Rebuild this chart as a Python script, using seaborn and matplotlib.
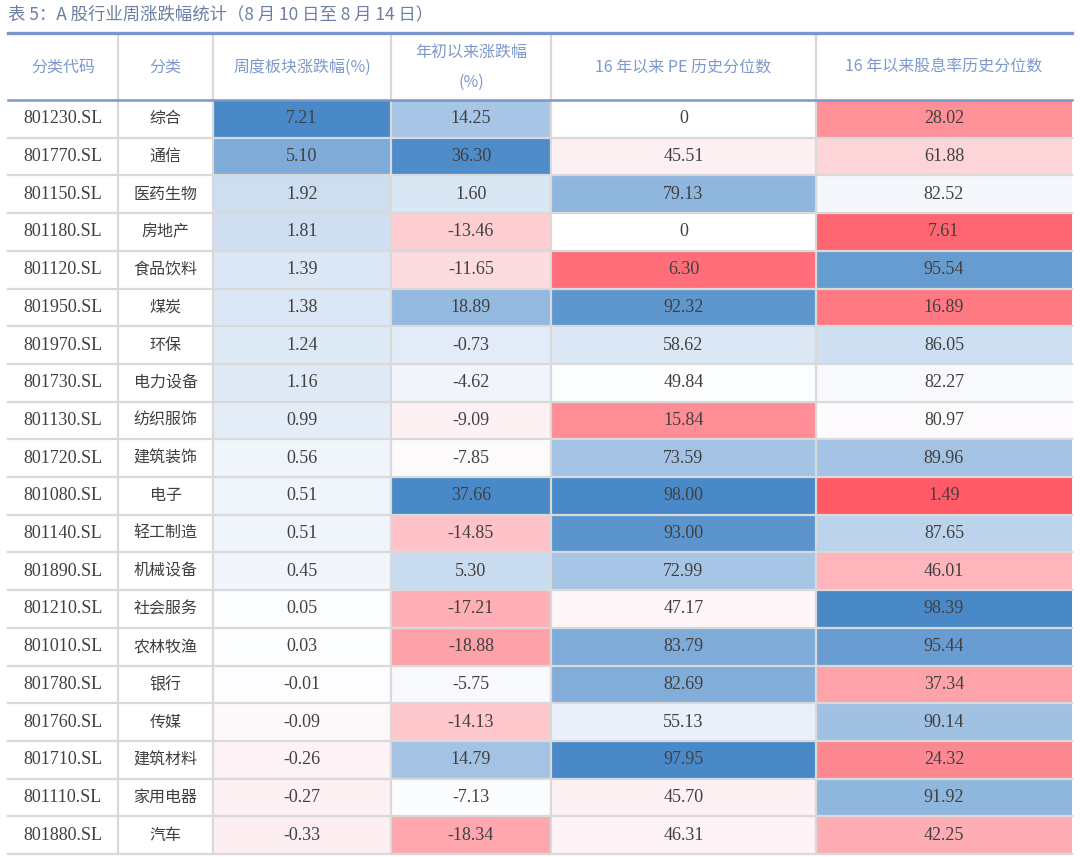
import numpy as np
import pandas as pd
import seaborn as sns
import matplotlib.pyplot as plt
from matplotlib.colors import LinearSegmentedColormap, TwoSlopeNorm

# Données du tableau
codes = ['801230.SL', '801770.SL', '801150.SL', '801180.SL', '801120.SL',
         '801950.SL', '801970.SL', '801730.SL', '801130.SL', '801720.SL',
         '801080.SL', '801140.SL', '801890.SL', '801210.SL', '801010.SL',
         '801780.SL', '801760.SL', '801710.SL', '801110.SL', '801880.SL']
names = ['综合', '通信', '医药生物', '房地产', '食品饮料', '煤炭', '环保', '电力设备',
         '纺织服饰', '建筑装饰', '电子', '轻工制造', '机械设备', '社会服务', '农林牧渔',
         '银行', '传媒', '建筑材料', '家用电器', '汽车']
weekly = [7.21, 5.10, 1.92, 1.81, 1.39, 1.38, 1.24, 1.16, 0.99, 0.56,
          0.51, 0.51, 0.45, 0.05, 0.03, -0.01, -0.09, -0.26, -0.27, -0.33]
ytd = [14.25, 36.30, 1.60, -13.46, -11.65, 18.89, -0.73, -4.62, -9.09, -7.85,
       37.66, -14.85, 5.30, -17.21, -18.88, -5.75, -14.13, 14.79, -7.13, -18.34]
pe_pct = [0, 45.51, 79.13, 0, 6.30, 92.32, 58.62, 49.84, 15.84, 73.59,
          98.00, 93.00, 72.99, 47.17, 83.79, 82.69, 55.13, 97.95, 45.70, 46.31]
dy_pct = [28.02, 61.88, 82.52, 7.61, 95.54, 16.89, 86.05, 82.27, 80.97, 89.96,
          1.49, 87.65, 46.01, 98.39, 95.44, 37.34, 90.14, 24.32, 91.92, 42.25]

title = '表 5：A 股行业周涨跌幅统计（8 月 10 日至 8 月 14 日）'
headers = ['分类代码', '分类', '周度板块涨跌幅(%)', '年初以来涨跌幅\n(%)',
           '16 年以来 PE 历史分位数', '16 年以来股息率历史分位数']

df = pd.DataFrame({'code': codes, 'name': names, 'weekly': weekly,
                   'ytd': ytd, 'pe': pe_pct, 'dy': dy_pct})

# Échelle de couleurs rouge - blanc - bleu
cmap = LinearSegmentedColormap.from_list('rwb', ['#ff5a66', '#fdfdff', '#4a89c8'])

# Géométrie (pixels)
W, H = 1080, 857
col_edges = [8, 118, 213, 391, 551, 816, 1072]
top_line, head_line = 33, 99.5
row_top, row_bot = 100, 854
n = len(df)
row_edges = np.linspace(row_top, row_bot, n + 1)

serif = ['Liberation Serif', 'Noto Sans CJK SC']
cjk = ['Noto Sans CJK SC', 'DejaVu Sans']
text_color = '#404040'
head_color = '#7d99cc'
grid_color = '#d9d9d9'

fig = plt.figure(figsize=(W / 100, H / 100), dpi=100)

# Colonnes colorées : une heatmap par colonne
color_cols = [
    ('weekly', TwoSlopeNorm(vmin=-3.7, vcenter=0, vmax=max(weekly))),
    ('ytd', TwoSlopeNorm(vmin=-28, vcenter=-7.5, vmax=max(ytd))),
    ('pe', TwoSlopeNorm(vmin=min(pe_pct), vcenter=49.5, vmax=max(pe_pct))),
    ('dy', TwoSlopeNorm(vmin=min(dy_pct), vcenter=np.median(dy_pct), vmax=max(dy_pct))),
]
for j, (col, norm) in enumerate(color_cols):
    x0, x1 = col_edges[j + 2], col_edges[j + 3]
    hax = fig.add_axes([x0 / W, 1 - row_bot / H, (x1 - x0) / W, (row_bot - row_top) / H])
    vals = df[col].astype(float)
    # les zéros de la colonne PE sont laissés en blanc
    shade = vals.where(vals != 0, np.nan) if col == 'pe' else vals
    labels = ['0' if v == 0 else f'{v:.2f}' for v in vals]
    sns.heatmap(shade.to_frame(), ax=hax, cmap=cmap, norm=norm, cbar=False,
                annot=False, xticklabels=False, yticklabels=False)
    hax.set_facecolor('white')
    hax.set_xlabel('')
    hax.set_ylabel('')
    for r, lab in enumerate(labels):
        hax.text(0.5, r + 0.5, lab, fontsize=13, color=text_color,
                 ha='center', va='center', family=serif)

# Calque supérieur : texte et traits
ax = fig.add_axes([0, 0, 1, 1], zorder=5)
ax.set_xlim(0, W)
ax.set_ylim(H, 0)
ax.axis('off')
ax.patch.set_alpha(0)

ax.text(8, 14.5, title, fontsize=12.5, color='#6b7ea3', va='center', ha='left', family=cjk)

for i, h in enumerate(headers):
    cx = (col_edges[i] + col_edges[i + 1]) / 2
    ax.text(cx, 67.5, h, fontsize=11.5, color=head_color, ha='center', va='center',
            family=cjk, linespacing=2.0)

for r in range(n):
    cy = (row_edges[r] + row_edges[r + 1]) / 2
    ax.text((col_edges[0] + col_edges[1]) / 2, cy, df['code'][r], fontsize=13,
            color=text_color, ha='center', va='center', family=serif)
    ax.text((col_edges[1] + col_edges[2]) / 2, cy, df['name'][r], fontsize=11.5,
            color=text_color, ha='center', va='center', family=cjk)

for y in row_edges[1:]:
    ax.plot([col_edges[0], col_edges[-1]], [y, y], color=grid_color, lw=1.6)
for x in col_edges[1:-1]:
    ax.plot([x, x], [top_line + 2, row_bot], color=grid_color, lw=1.6)
ax.plot([col_edges[0], col_edges[-1]], [top_line, top_line], color='#7b97c9', lw=2.4)
ax.plot([col_edges[0], col_edges[-1]], [head_line, head_line], color='#7b97c9', lw=1.8)

fig.savefig('out.png', dpi=100)
